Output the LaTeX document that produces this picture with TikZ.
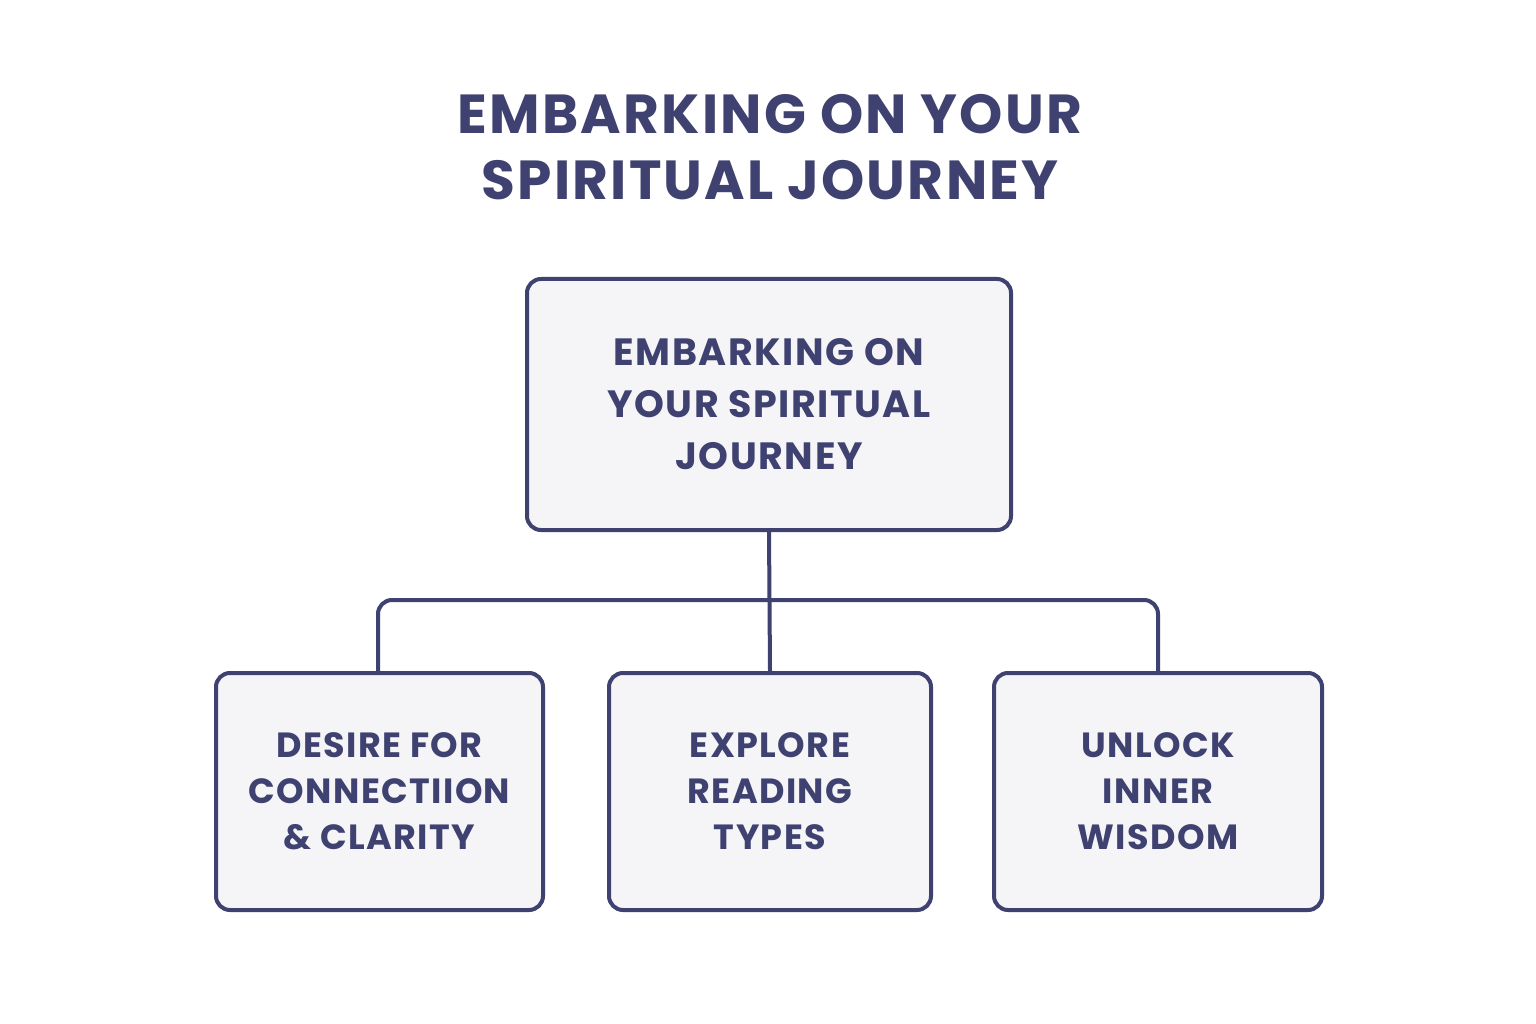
\documentclass[tikz,border=0pt]{standalone}
\usepackage{fontspec}
\setmainfont{Poppins}[LetterSpace=4]
\definecolor{navy}{HTML}{3F4270}
\definecolor{boxfill}{HTML}{F5F5F7}
\begin{document}
\begin{tikzpicture}[x=1pt,y=-1pt,
  box/.style={draw=navy,line width=4pt,fill=boxfill,rounded corners=14pt,align=center,text=navy,font=\fontsize{35}{46}\selectfont\bfseries},
  conn/.style={draw=navy,line width=4pt,rounded corners=14pt}]
\fill[white] (0,0) rectangle (1536,1024);
\useasboundingbox (0,0) rectangle (1536,1024);
\node[text=navy,align=center,font=\fontsize{55}{66}\selectfont\bfseries] (title) at (770,147) {EMBARKING ON YOUR\\SPIRITUAL JOURNEY};
\node[box,font=\fontsize{38}{52}\selectfont\bfseries,minimum width=484pt,minimum height=251pt] (top) at (769,404.5) {EMBARKING ON\\YOUR SPIRITUAL\\JOURNEY};
\node[box,minimum width=327pt,minimum height=237pt] (b1) at (379.5,791.5) {DESIRE FOR\\CONNECTIION\\\& CLARITY};
\node[box,minimum width=322pt,minimum height=237pt] (b2) at (770,791.5) {EXPLORE\\READING\\TYPES};
\node[box,minimum width=328pt,minimum height=237pt] (b3) at (1158,791.5) {UNLOCK\\INNER\\WISDOM};
\draw[conn] (top.south) -- (b2.north);
\draw[conn] (b1.north -| 378,0) -- (378,600) -- (1158,600) -- (b3.north -| 1158,0);
\end{tikzpicture}
\end{document}
